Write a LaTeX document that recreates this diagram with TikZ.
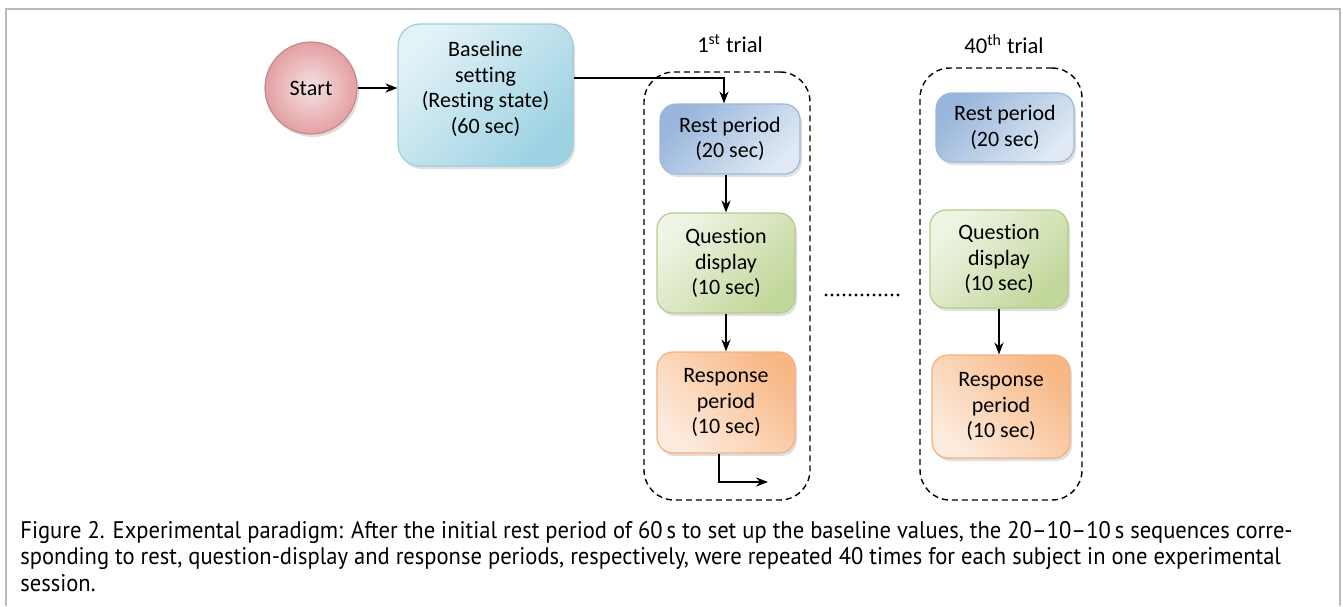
\documentclass[tikz,border=0pt]{standalone}
\usepackage{fontspec}
\setmainfont{Carlito}[Ligatures=NoCommon]
\newfontfamily\capfont{PT Sans}[FakeStretch=0.94]
\usetikzlibrary{arrows.meta,shadows}

\definecolor{startdark}{HTML}{E3A0A3}
\definecolor{startlight}{HTML}{F6E1E2}
\definecolor{startline}{HTML}{C8888B}
\definecolor{basedark}{HTML}{9DD2E3}
\definecolor{baselight}{HTML}{E2F2F7}
\definecolor{baseline}{HTML}{9ECDDC}
\definecolor{restdark}{HTML}{98B5DB}
\definecolor{restlight}{HTML}{E0E9F4}
\definecolor{restline}{HTML}{9FB8DA}
\definecolor{quesdark}{HTML}{C2D79B}
\definecolor{queslight}{HTML}{EFF4E4}
\definecolor{quesline}{HTML}{B5CC8C}
\definecolor{respdark}{HTML}{F8B886}
\definecolor{resplight}{HTML}{FDEBDD}
\definecolor{respline}{HTML}{F3B080}

\tikzset{
  stage/.style={draw, rounded corners=8pt, align=center, inner sep=2pt,
    line width=0.6pt, font=\fontsize{11}{12.8}\selectfont,
    drop shadow={shadow xshift=1pt, shadow yshift=-1.5pt, opacity=0.25}},
  basebox/.style={stage, rounded corners=11pt, draw=baseline,
    top color=baselight, bottom color=basedark, shading angle=45},
  restbox/.style={stage, draw=restline,
    top color=restdark, bottom color=restlight, shading angle=45},
  quesbox/.style={stage, draw=quesline,
    top color=queslight, bottom color=quesdark, shading angle=45},
  respbox/.style={stage, draw=respline,
    top color=respdark, bottom color=resplight, shading angle=-45},
  trialbox/.style={draw, dash pattern=on 3pt off 2pt, line width=0.7pt,
    rounded corners=15pt},
  triallabel/.style={font=\fontsize{11.3}{13}\selectfont},
  arr/.style={->, line width=0.65pt}
}

\begin{document}
\begin{tikzpicture}[x=0.5pt, y=-0.5pt, >={Stealth[length=6pt,width=4.6pt]}]
    \useasboundingbox (0,0) rectangle (1343,606);
    \draw[gray!55, line width=1pt] (6,606) -- (6,9) -- (1340,9) -- (1340,606);

    \node[trialbox, minimum width=83pt, minimum height=214pt] (trial1) at (727,286) {};
    \node[trialbox, minimum width=81pt, minimum height=216pt] (trial40) at (1001,284) {};
    \node[triallabel] (lab1) at (730,44) {1\textsuperscript{st} trial};
    \node[triallabel] (lab40) at (1004,44) {40\textsuperscript{th} trial};

    \node[circle, draw=startline, line width=0.6pt, minimum size=46pt,
      inner color=startlight, outer color=startdark,
      font=\fontsize{11}{12.8}\selectfont,
      drop shadow={shadow xshift=1pt, shadow yshift=-1.5pt, opacity=0.25}] (start) at (311,88) {Start};
    \node[basebox, minimum width=87.5pt, minimum height=71pt] (base) at (485.5,95)
      {Baseline\\setting\\(Resting state)\\(60 sec)\\[-5pt]};

    \node[restbox, minimum width=70pt, minimum height=35pt] (rest1) at (730,139) {Rest period\\(20 sec)};
    \node[quesbox, minimum width=69pt, minimum height=50pt] (ques1) at (726,263) {Question\\display\\(10 sec)};
    \node[respbox, minimum width=69pt, minimum height=50.5pt] (resp1) at (726,402.5) {Response\\period\\(10 sec)};

    \node[restbox, minimum width=69pt, minimum height=34.5pt] (rest40) at (1005,127.5) {Rest period\\(20 sec)};
    \node[quesbox, minimum width=69pt, minimum height=49pt] (ques40) at (999,259) {Question\\display\\(10 sec)};
    \node[respbox, minimum width=69pt, minimum height=51.5pt] (resp40) at (1001,406.5) {Response\\period\\(10 sec)};

    \coordinate (next) at (768,482);
    \coordinate (dotsL) at (826,295);
    \coordinate (dotsR) at (902,295);

    \draw[arr] (start.east) -- (start.east -| base.west);
    \draw[arr] ([yshift=8.5pt]base.east) -| ([xshift=-3pt]rest1.north);
    \draw[arr] (ques1.north |- rest1.south) -- (ques1.north);
    \draw[arr] (ques1.south) -- (resp1.north);
    \draw[arr] ([xshift=-3.5pt]resp1.south) |- (next);
    \draw[arr] (ques40.south) -- (ques40.south |- resp40.north);
    \draw[line width=1.7pt, line cap=round, dash pattern=on 0pt off 3pt] (dotsL) -- (dotsR);

    \node[anchor=north west, inner sep=0pt, align=left,
      font=\capfont\fontsize{12}{13.2}\selectfont] (caption) at (20,521)
      {Figure 2. Experimental paradigm: After the initial rest period of 60\,s to set up the baseline values, the 20\textendash 10\textendash 10\,s sequences corre-\\sponding to rest, question-display and response periods, respectively, were repeated 40 times for each subject in one experimental\\session.};
\end{tikzpicture}
\end{document}
